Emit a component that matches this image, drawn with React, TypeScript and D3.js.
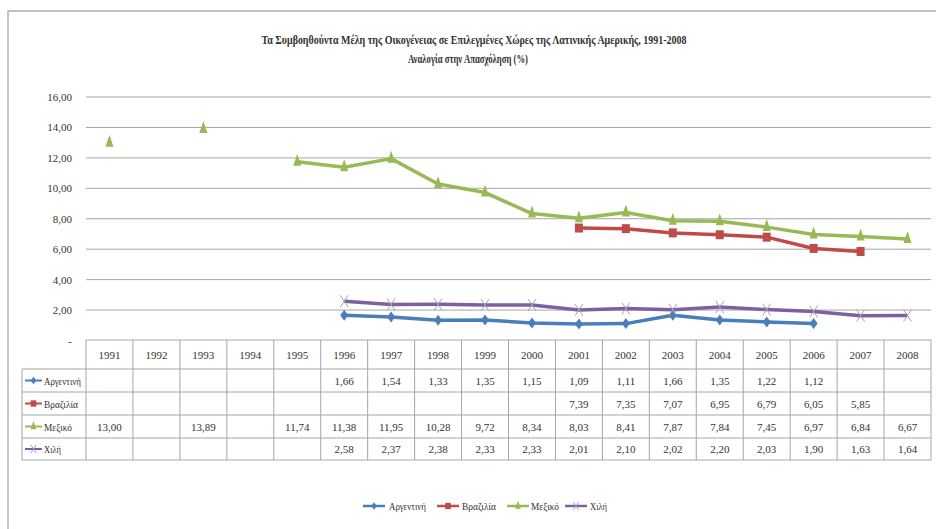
import React from "react";
import * as d3 from "d3";

const years = [1991,1992,1993,1994,1995,1996,1997,1998,1999,2000,2001,2002,2003,2004,2005,2006,2007,2008];
const argentina: (number|null)[] = [null,null,null,null,null,1.66,1.54,1.33,1.35,1.15,1.09,1.11,1.66,1.35,1.22,1.12,null,null];
const brazil: (number|null)[] = [null,null,null,null,null,null,null,null,null,null,7.39,7.35,7.07,6.95,6.79,6.05,5.85,null];
const mexico: (number|null)[] = [13.00,null,13.89,null,11.74,11.38,11.95,10.28,9.72,8.34,8.03,8.41,7.87,7.84,7.45,6.97,6.84,6.67];
const chile: (number|null)[] = [null,null,null,null,null,2.58,2.37,2.38,2.33,2.33,2.01,2.10,2.02,2.20,2.03,1.90,1.63,1.64];
const yTicks = [0,2,4,6,8,10,12,14,16];

const series = [
  { name: "Αργεντινή", values: argentina, color: "#4a7ebb", marker: "diamond" },
  { name: "Βραζιλία", values: brazil, color: "#be4b48", marker: "square" },
  { name: "Μεξικό", values: mexico, color: "#98b954", marker: "triangle" },
  { name: "Χιλή", values: chile, color: "#7d60a0", marker: "x" },
];

const title1 = "Τα Συμβοηθούντα Μέλη της Οικογένειας σε Επιλεγμένες Χώρες της Λατινικής Αμερικής, 1991-2008";
const title2 = "Αναλογία στην Απασχόληση (%)";

const fmt = (v: number) => v.toFixed(2).replace(".", ",");

const LEFT = 86, RIGHT = 931;
const x = d3.scaleBand<number>().domain(years).range([LEFT, RIGHT]);
const y = d3.scaleLinear().domain([0, 16]).range([340.5, 97]);

function Marker({ type, cx, cy, color, s = 1 }: { type: string; cx: number; cy: number; color: string; s?: number }) {
  if (type === "diamond") {
    return <path d={`M${cx},${cy - 5.5 * s}L${cx + 4 * s},${cy}L${cx},${cy + 5.5 * s}L${cx - 4 * s},${cy}Z`} fill={color} />;
  }
  if (type === "square") {
    return <rect x={cx - 4 * s} y={cy - 4.5 * s} width={8 * s} height={9 * s} fill={color} />;
  }
  if (type === "triangle") {
    return <path d={`M${cx},${cy - 8 * s}L${cx + 4 * s},${cy + 4 * s}L${cx - 4 * s},${cy + 4 * s}Z`} fill={color} />;
  }
  return (
    <g stroke="#a8a0b8" strokeWidth={1}>
      <line x1={cx - 4 * s} y1={cy - 6 * s} x2={cx + 4 * s} y2={cy + 6 * s} />
      <line x1={cx - 4 * s} y1={cy + 6 * s} x2={cx + 4 * s} y2={cy - 6 * s} />
    </g>
  );
}

export default function App() {
  const cx = (i: number) => (x(years[i]) as number) + x.bandwidth() / 2;
  const line = d3.line<[number, number | null]>()
    .defined(d => d[1] !== null)
    .x(d => cx(d[0]))
    .y(d => y(d[1] as number));

  const rowTops = [340, 369, 392, 415, 438, 460];
  const font = "'Liberation Serif', 'DejaVu Serif', serif";
  const grid = "#a6a6a6";

  const labelLens = [37, 34, 28, 17];
  const legendItems = [
    { lx: 363, tx: 389 },
    { lx: 437, tx: 462 },
    { lx: 507, tx: 531 },
    { lx: 565, tx: 590 },
  ];

  return (
    <svg width={936} height={529} style={{ position: "absolute", left: 0, top: 0, background: "#fff" }} fontFamily={font}>
      <rect x={8} y={11} width={940} height={530} fill="#fff" stroke="#b0b0b0" strokeWidth={1.5} />
      <text x={474} y={44} textAnchor="middle" fontSize={13} fontWeight="bold" textLength={425} lengthAdjust="spacingAndGlyphs" fill="#333">{title1}</text>
      <text x={468} y={63} textAnchor="middle" fontSize={13} fontWeight="bold" textLength={120} lengthAdjust="spacingAndGlyphs" fill="#333">{title2}</text>

      {yTicks.map(t => (
        <g key={t}>
          {t > 0 && <line x1={LEFT} x2={RIGHT} y1={y(t)} y2={y(t)} stroke={grid} strokeWidth={1} />}
          <text x={72} y={y(t) + 4} textAnchor="end" fontSize={11} fill="#333">{t === 0 ? "-" : fmt(t)}</text>
        </g>
      ))}

      {series.map(s => {
        const pts = s.values.map((v, i) => [i, v] as [number, number | null]);
        return (
          <g key={s.name}>
            <path d={line(pts) || ""} fill="none" stroke={s.color} strokeWidth={3.5} strokeLinejoin="round" />
            {pts.filter(p => p[1] !== null).map(p => (
              <Marker key={p[0]} type={s.marker} cx={cx(p[0])} cy={y(p[1] as number)} color={s.color} />
            ))}
          </g>
        );
      })}

      {/* table */}
      <g stroke={grid} strokeWidth={1}>
        <line x1={LEFT} x2={RIGHT} y1={rowTops[0]} y2={rowTops[0]} />
        {rowTops.slice(1).map(r => <line key={r} x1={22} x2={RIGHT} y1={r} y2={r} />)}
        <line x1={22} x2={22} y1={rowTops[1]} y2={rowTops[5]} />
        {years.map(yr => <line key={yr} x1={x(yr) as number} x2={x(yr) as number} y1={rowTops[0]} y2={rowTops[5]} />)}
        <line x1={RIGHT} x2={RIGHT} y1={rowTops[0]} y2={rowTops[5]} />
      </g>
      {years.map((yr, i) => (
        <text key={yr} x={cx(i)} y={359} textAnchor="middle" fontSize={11} fill="#333">{yr}</text>
      ))}
      {series.map((s, r) => {
        const mid = (rowTops[r + 1] + rowTops[r + 2]) / 2;
        return (
          <g key={s.name}>
            <line x1={25} x2={42} y1={mid} y2={mid} stroke={s.color} strokeWidth={2} />
            <Marker type={s.marker} cx={33.5} cy={mid} color={s.color} s={0.7} />
            <text x={44} y={mid + 4} fontSize={10.5} fill="#333" textLength={labelLens[r]} lengthAdjust="spacingAndGlyphs">{s.name}</text>
            {s.values.map((v, i) => v === null ? null : (
              <text key={i} x={cx(i)} y={mid + 4} textAnchor="middle" fontSize={11} fill="#333">{fmt(v)}</text>
            ))}
          </g>
        );
      })}

      {/* legend */}
      {series.map((s, i) => (
        <g key={s.name}>
          <line x1={legendItems[i].lx} x2={legendItems[i].lx + 22} y1={506} y2={506} stroke={s.color} strokeWidth={2.5} />
          <Marker type={s.marker} cx={legendItems[i].lx + 11} cy={506} color={s.color} s={0.7} />
          <text x={legendItems[i].tx} y={510} fontSize={11} fill="#333" textLength={labelLens[i]} lengthAdjust="spacingAndGlyphs">{s.name}</text>
        </g>
      ))}
    </svg>
  );
}
